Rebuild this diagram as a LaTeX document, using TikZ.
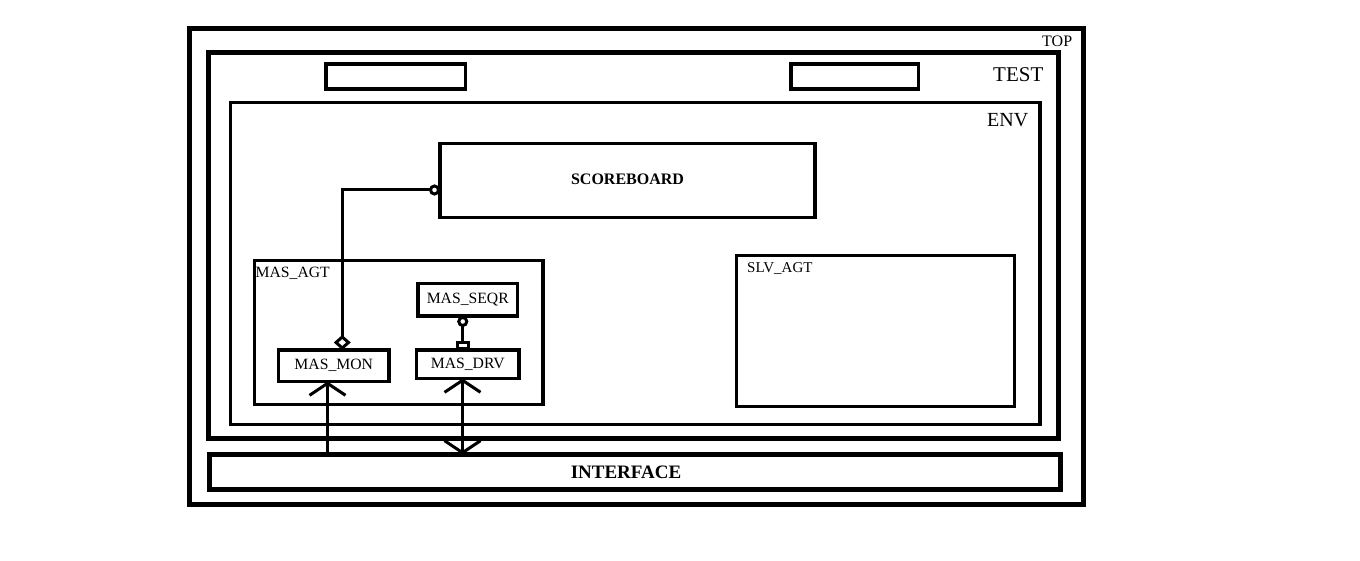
\documentclass[tikz,border=0pt]{standalone}
\usepackage{fontspec}
\setmainfont{Liberation Serif}
\usetikzlibrary{arrows.meta,calc}

\begin{document}
\begin{tikzpicture}[x=1pt, y=-1pt,
    frame/.style={draw, line width=5pt, inner sep=0pt, outer sep=0pt},
    box/.style={draw, line width=3.5pt, inner sep=0pt, outer sep=0pt, font=\fontsize{15.7}{18}\selectfont},
    lbl/.style={inner sep=0pt, anchor=base west},
    conn/.style={line width=3pt},
    barb/.tip={Straight Barb[length=12pt, width=36pt]}]
\useasboundingbox (0,0) rectangle (1360,561);
% outer frames
\node[frame, minimum width=894.5pt, minimum height=476pt] (top) at (636.25,266.5) {};
\node[frame, minimum width=850pt, minimum height=386pt] (test) at (633.5,245.5) {};
\node[box, minimum width=809.5pt, minimum height=322pt] (env) at (635.25,263.5) {};
\node[frame, minimum width=851pt, minimum height=35pt, font=\fontsize{19}{22}\selectfont\bfseries] (intf) at (635,472) {\hspace*{-18pt}INTERFACE};
\node[lbl, font=\fontsize{16}{18}\selectfont] (toplbl) at (1042,47) {TOP};
\node[lbl, font=\fontsize{21}{24}\selectfont] (testlbl) at (993,82) {TEST};
\node[lbl, font=\fontsize{20}{24}\selectfont] (envlbl) at (987,127) {ENV};
% test level blocks
\node[box, minimum width=139.5pt, minimum height=25pt] (blank1) at (395.75,76.5) {};
\node[box, minimum width=127.5pt, minimum height=25pt] (blank2) at (854.75,76.5) {};
% env contents
\node[box, minimum width=375pt, minimum height=74pt, font=\fontsize{16}{18}\selectfont\bfseries] (sb) at (627.5,180.5) {\raisebox{3.5pt}{SCOREBOARD}};
\node[box, minimum width=288.5pt, minimum height=144pt] (masagt) at (398.75,332.5) {};
\node[box, minimum width=278pt, minimum height=151pt] (slvagt) at (875.5,331) {};
\node[lbl, font=\fontsize{15.7}{18}\selectfont] (masagtlbl) at (255.5,278) {MAS\_AGT};
\node[lbl, font=\fontsize{15}{18}\selectfont] (slvagtlbl) at (747,273) {SLV\_AGT};
\node[box, minimum width=99.5pt, minimum height=32.5pt] (seqr) at (467.75,299.75) {MAS\_SEQR};
\node[box, minimum width=102.5pt, minimum height=28.5pt] (drv) at (467.75,364.25) {MAS\_DRV};
\node[box, minimum width=110.5pt, minimum height=31.5pt] (mon) at (333.75,365.75) {MAS\_MON};
% connections
\draw[conn, {Diamond[open, length=15pt, width=17pt]}-{Circle[open, length=11pt]}]
    ([xshift=8.5pt]mon.north) |- ([yshift=-9.5pt]sb.west);
\draw[conn, {Circle[open, length=11pt]}-{Square[open, length=9pt, width=14pt]}]
    ([xshift=-5pt]seqr.south) -- ([xshift=-5pt]drv.north);
\draw[conn, barb-] ([xshift=-6.25pt]mon.south) -- ([xshift=-6.25pt]mon.south |- intf.north);
\draw[conn, barb-barb] ([xshift=-5.25pt]drv.south) -- ([xshift=-5.25pt]drv.south |- intf.north);
\end{tikzpicture}
\end{document}
